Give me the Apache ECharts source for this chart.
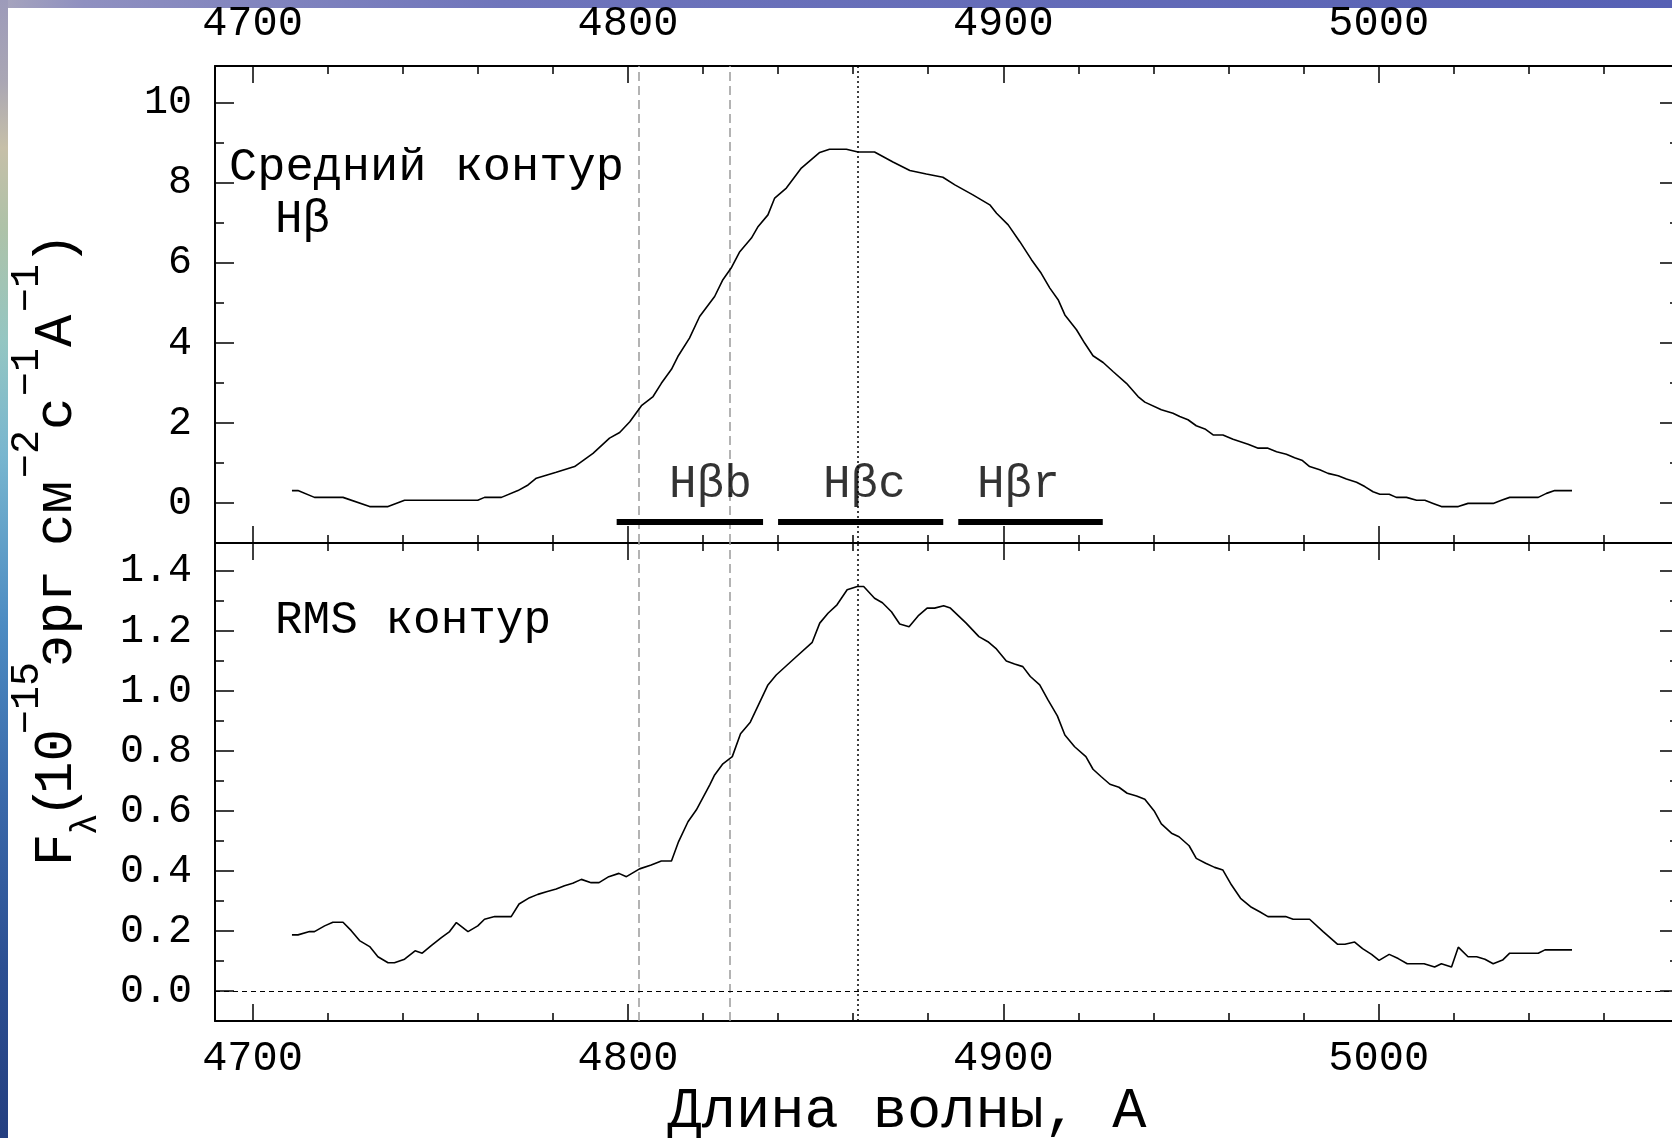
<!DOCTYPE html>
<html>
<head>
<meta charset="utf-8">
<script src="https://cdn.jsdelivr.net/npm/echarts@6/dist/echarts.min.js"></script>
<style>
  html, body { margin: 0; padding: 0; background: #fff; }
  #chart { width: 1672px; height: 1138px; }
</style>
</head>
<body>
<div id="chart"></div>
<script>
// ---- Mean Hβ profile: wavelength (Å) and flux (1e-15 erg cm^-2 s^-1 Å^-1) ----
const meanWave = [4710.5, 4712.1, 4716.5, 4724.1, 4731.2, 4736.1, 4740.5, 4760.0, 4761.8, 4766.3,
  4770.7, 4773.4, 4775.6, 4780.9, 4785.8, 4790.7, 4795.1, 4797.8, 4800.5, 4803.6,
  4806.7, 4808.9, 4811.6, 4813.3, 4816.4, 4819.1, 4823.1, 4825.3, 4827.5, 4829.8,
  4832.9, 4834.7, 4837.3, 4839.1, 4842.2, 4846.2, 4851.1, 4853.7, 4858.2, 4861.3,
  4865.7, 4870.6, 4875.1, 4879.5, 4883.9, 4887.1, 4891.9, 4896.4, 4898.2, 4901.3,
  4904.4, 4907.5, 4910.1, 4912.4, 4914.6, 4916.4, 4919.5, 4921.7, 4923.9, 4926.6,
  4929.3, 4932.8, 4935.9, 4937.7, 4942.1, 4945.2, 4947.0, 4949.2, 4951.4, 4953.7,
  4955.9, 4958.5, 4961.2, 4965.2, 4967.9, 4970.5, 4972.8, 4975.4, 4977.6, 4979.7,
  4981.6, 4984.3, 4986.5, 4989.2, 4991.4, 4994.1, 4996.3, 4998.5, 5000.3, 5002.8,
  5004.7, 5007.4, 5010.1, 5012.3, 5014.5, 5016.7, 5021.2, 5023.8, 5030.5, 5032.7,
  5034.9, 5042.5, 5044.7, 5046.9, 5051.5];
const meanFlux = [0.31, 0.31, 0.14, 0.14, -0.09, -0.09, 0.07, 0.07, 0.14, 0.14,
  0.31, 0.45, 0.62, 0.77, 0.91, 1.24, 1.62, 1.76, 2.03, 2.43,
  2.66, 2.99, 3.34, 3.66, 4.12, 4.66, 5.16, 5.58, 5.87, 6.28,
  6.62, 6.91, 7.20, 7.62, 7.87, 8.37, 8.76, 8.84, 8.84, 8.77,
  8.77, 8.52, 8.31, 8.22, 8.14, 7.95, 7.70, 7.45, 7.24, 6.95,
  6.53, 6.08, 5.74, 5.37, 5.08, 4.70, 4.33, 3.99, 3.68, 3.51,
  3.28, 2.99, 2.66, 2.52, 2.33, 2.24, 2.16, 2.08, 1.93, 1.85,
  1.70, 1.70, 1.59, 1.47, 1.37, 1.37, 1.28, 1.22, 1.13, 1.06,
  0.91, 0.83, 0.74, 0.68, 0.60, 0.52, 0.41, 0.28, 0.22, 0.22,
  0.14, 0.14, 0.07, 0.07, -0.01, -0.09, -0.09, -0.01, -0.01, 0.07,
  0.14, 0.14, 0.24, 0.31, 0.31];

// ---- RMS Hβ profile ----
const rmsWave = [4710.5, 4712.1, 4715.2, 4716.5, 4719.2, 4721.4, 4724.1, 4726.3, 4728.5, 4731.2,
  4733.4, 4736.1, 4737.8, 4740.5, 4743.3, 4745.2, 4747.6, 4750.3, 4752.5, 4754.3,
  4757.4, 4760.0, 4761.8, 4764.5, 4768.9, 4771.0, 4773.8, 4776.0, 4778.3, 4780.9,
  4783.1, 4785.3, 4787.6, 4790.2, 4792.3, 4794.9, 4797.6, 4799.6, 4803.1, 4806.2,
  4808.9, 4811.6, 4813.5, 4816.0, 4818.2, 4821.8, 4823.1, 4825.3, 4827.8, 4830.0,
  4832.6, 4837.3, 4839.5, 4844.4, 4849.1, 4851.1, 4853.3, 4855.7, 4858.4, 4861.1,
  4862.8, 4865.7, 4867.8, 4870.2, 4872.4, 4874.9, 4877.3, 4879.7, 4881.7, 4884.1,
  4885.9, 4890.1, 4893.5, 4895.9, 4898.0, 4900.8, 4903.0, 4905.2, 4907.2, 4909.7,
  4911.9, 4914.4, 4916.4, 4919.0, 4922.0, 4923.9, 4926.1, 4928.4, 4930.8, 4933.0,
  4935.5, 4937.7, 4940.3, 4942.1, 4944.8, 4946.8, 4949.5, 4951.4, 4953.9, 4956.3,
  4958.5, 4960.8, 4963.2, 4966.1, 4968.3, 4970.5, 4975.2, 4977.2, 4981.6, 4985.2,
  4989.0, 4991.0, 4993.6, 4995.7, 4998.1, 5000.1, 5002.8, 5005.2, 5007.6, 5012.1,
  5014.9, 5016.7, 5019.4, 5021.2, 5023.8, 5026.1, 5028.3, 5030.5, 5033.0, 5034.9,
  5042.5, 5044.3, 5051.5];
const rmsFlux = [0.187, 0.187, 0.198, 0.198, 0.217, 0.229, 0.229, 0.201, 0.168, 0.148,
  0.114, 0.094, 0.094, 0.106, 0.134, 0.126, 0.151, 0.178, 0.198, 0.228,
  0.198, 0.217, 0.239, 0.248, 0.248, 0.290, 0.311, 0.322, 0.331, 0.340,
  0.351, 0.359, 0.372, 0.361, 0.361, 0.381, 0.392, 0.381, 0.407, 0.420,
  0.433, 0.433, 0.498, 0.564, 0.603, 0.687, 0.720, 0.757, 0.781, 0.857,
  0.896, 1.020, 1.053, 1.109, 1.162, 1.226, 1.259, 1.287, 1.337, 1.348,
  1.348, 1.309, 1.294, 1.264, 1.223, 1.214, 1.250, 1.276, 1.276, 1.284,
  1.276, 1.226, 1.181, 1.164, 1.142, 1.100, 1.090, 1.081, 1.048, 1.020,
  0.970, 0.917, 0.853, 0.814, 0.781, 0.739, 0.714, 0.689, 0.679, 0.659,
  0.650, 0.639, 0.598, 0.557, 0.526, 0.514, 0.484, 0.442, 0.426, 0.412,
  0.403, 0.353, 0.309, 0.279, 0.264, 0.248, 0.248, 0.239, 0.239, 0.198,
  0.156, 0.156, 0.163, 0.141, 0.122, 0.102, 0.122, 0.108, 0.091, 0.091,
  0.080, 0.091, 0.080, 0.146, 0.114, 0.114, 0.106, 0.091, 0.103, 0.126,
  0.126, 0.137, 0.137];

// ---- Integration windows: blue wing, core, red wing ----
const bandNames = ['Hβb', 'Hβc', 'Hβr'];
const bandStart = [4797, 4840, 4888];
const bandEnd = [4836, 4884, 4926.5];
const bandLabelAt = [4822, 4863, 4904];

// ---- Reference wavelengths ----
const windowEdges = [4803, 4827];
const lineCenter = 4861.3;

// ---- Tick values ----
const xMajorTicks = [4700, 4800, 4900, 5000];
const xMinorTicks = [4700, 4720, 4740, 4760, 4780, 4800, 4820, 4840, 4860, 4880,
  4900, 4920, 4940, 4960, 4980, 5000, 5020, 5040, 5060];
const meanMajorTicks = [0, 2, 4, 6, 8, 10];
const meanMinorTicks = [-1, 0, 1, 2, 3, 4, 5, 6, 7, 8, 9, 10];
const rmsMajorTicks = [0, 0.2, 0.4, 0.6, 0.8, 1.0, 1.2, 1.4];
const rmsMinorTicks = [0, 0.1, 0.2, 0.3, 0.4, 0.5, 0.6, 0.7, 0.8, 0.9, 1.0, 1.1, 1.2, 1.3, 1.4];

const FONT = '"Liberation Mono", "Courier New", monospace';
const X_MIN = 4690, X_MAX = 5080;
const BAR_LEVEL = -0.475;
const BAND_LABEL_LEVEL = 0.45;

function xAx(gridIndex, position, ticks, len, withLine, labels, margin) {
  return {
    type: 'value', gridIndex, position, min: X_MIN, max: X_MAX,
    splitLine: { show: false },
    axisLine: { show: withLine, onZero: false, lineStyle: { color: '#000', width: 2 } },
    axisTick: { show: true, inside: true, length: len, customValues: ticks,
      lineStyle: { color: '#000', width: 1.5 } },
    axisLabel: labels ? { show: true, customValues: labels, margin: margin, color: '#000',
      fontFamily: FONT, fontSize: 42, formatter: v => String(v) } : { show: false }
  };
}
function yAx(gridIndex, position, min, max, ticks, len, withLine, labels, fmt) {
  return {
    type: 'value', gridIndex, position, min, max,
    splitLine: { show: false },
    axisLine: { show: withLine, onZero: false, lineStyle: { color: '#000', width: 2 } },
    axisTick: { show: true, inside: true, length: len, customValues: ticks,
      lineStyle: { color: '#000', width: 1.5 } },
    axisLabel: labels ? { show: true, customValues: labels, margin: 23, color: '#000',
      fontFamily: FONT, fontSize: 40, formatter: fmt } : { show: false }
  };
}

const MEAN_MIN = -1, MEAN_MAX = 10.92;
const RMS_MIN = -0.1, RMS_MAX = 1.493;

const xAxes = [
  xAx(0, 'top', xMajorTicks, 17, true, xMajorTicks, 21),   // 0
  xAx(0, 'top', xMinorTicks, 8, false, null),               // 1
  xAx(0, 'bottom', xMajorTicks, 17, true, null),            // 2
  xAx(0, 'bottom', xMinorTicks, 8, false, null),            // 3
  xAx(1, 'top', xMajorTicks, 17, true, null),               // 4
  xAx(1, 'top', xMinorTicks, 8, false, null),               // 5
  xAx(1, 'bottom', xMajorTicks, 17, true, xMajorTicks, 17), // 6
  xAx(1, 'bottom', xMinorTicks, 8, false, null)             // 7
];
const yAxes = [
  yAx(0, 'left', MEAN_MIN, MEAN_MAX, meanMajorTicks, 19, true, meanMajorTicks, v => String(v)), // 0
  yAx(0, 'left', MEAN_MIN, MEAN_MAX, meanMinorTicks, 9, false, null),                             // 1
  yAx(0, 'right', MEAN_MIN, MEAN_MAX, meanMajorTicks, 19, true, null),                            // 2
  yAx(0, 'right', MEAN_MIN, MEAN_MAX, meanMinorTicks, 9, false, null),                            // 3
  yAx(1, 'left', RMS_MIN, RMS_MAX, rmsMajorTicks, 19, true, rmsMajorTicks, v => v.toFixed(1)),   // 4
  yAx(1, 'left', RMS_MIN, RMS_MAX, rmsMinorTicks, 9, false, null),                                // 5
  yAx(1, 'right', RMS_MIN, RMS_MAX, rmsMajorTicks, 19, true, null),                               // 6
  yAx(1, 'right', RMS_MIN, RMS_MAX, rmsMinorTicks, 9, false, null)                                // 7
];

function refLines(extra) {
  const lines = windowEdges.map(w => ({ xAxis: w,
    lineStyle: { color: '#9a9a9a', type: [9, 5], width: 1.5 } }));
  lines.push({ xAxis: lineCenter, lineStyle: { color: '#000', type: [2, 3], width: 1.5 } });
  return {
    silent: true, symbol: ['none', 'none'], label: { show: false }, animation: false,
    emphasis: { disabled: true },
    data: lines.concat(extra || [])
  };
}

const series = [
  {
    type: 'line', name: 'mean', xAxisIndex: 0, yAxisIndex: 0,
    data: meanWave.map((w, i) => [w, meanFlux[i]]),
    symbol: 'none', showSymbol: false, lineStyle: { color: '#000', width: 1.6 }, z: 5,
    markLine: refLines()
  },
  {
    type: 'line', name: 'rms', xAxisIndex: 6, yAxisIndex: 4,
    data: rmsWave.map((w, i) => [w, rmsFlux[i]]),
    symbol: 'none', showSymbol: false, lineStyle: { color: '#000', width: 1.6 }, z: 5,
    markLine: refLines([{ yAxis: 0, lineStyle: { color: '#000', type: [5, 4], width: 1.2 } }])
  },
  {
    type: 'scatter', xAxisIndex: 0, yAxisIndex: 0, symbolSize: 0, silent: true, z: 6,
    data: bandNames.map((n, i) => ({ name: n, value: [bandLabelAt[i], BAND_LABEL_LEVEL] })),
    label: { show: true, position: 'inside', formatter: '{b}', color: '#000',
      fontFamily: FONT, fontSize: 46 }
  }
].concat(bandNames.map((n, i) => ({
  type: 'line', name: n, xAxisIndex: 0, yAxisIndex: 0, symbol: 'none', silent: true, z: 6,
  data: [[bandStart[i], BAR_LEVEL], [bandEnd[i], BAR_LEVEL]],
  lineStyle: { color: '#000', width: 6, cap: 'butt' }
})));

// Vertical axis title, laid out along a rotated baseline
const T_MAIN = '54px ' + FONT, T_SUP = '40px ' + FONT, T_SUB = '36px ' + FONT;
const titleParts = [
  ['F', T_MAIN, 4, 57], ['λ', T_SUB, 35, 86], ['(', T_MAIN, 52, 57], ['10', T_MAIN, 76, 57],
  ['−15', T_SUP, 136, 27], ['эрг', T_MAIN, 203, 57], ['см', T_MAIN, 324, 57],
  ['−2', T_SUP, 392, 27], ['с', T_MAIN, 440, 57], ['−1', T_SUP, 474, 27],
  ['A', T_MAIN, 523, 57], ['−1', T_SUP, 558, 27], [')', T_MAIN, 605, 57]
];

const graphic = [
  { type: 'rect', z: 0, silent: true, shape: { x: 0, y: 0, width: 1672, height: 8 },
    style: { fill: { type: 'linear', x: 0, y: 0, x2: 1, y2: 0, colorStops: [
      { offset: 0, color: '#a7a5bd' }, { offset: 0.05, color: '#8f90c0' },
      { offset: 0.3, color: '#6f75bb' }, { offset: 1, color: '#5660b4' }] } } },
  { type: 'rect', z: 0, silent: true, shape: { x: 0, y: 0, width: 8, height: 1138 },
    style: { fill: { type: 'linear', x: 0, y: 0, x2: 0, y2: 1, colorStops: [
      { offset: 0, color: '#9d9bba' }, { offset: 0.07, color: '#a9a6b4' },
      { offset: 0.13, color: '#c6bfa8' }, { offset: 0.2, color: '#aec2a8' },
      { offset: 0.3, color: '#94c6c2' }, { offset: 0.4, color: '#78b6cf' },
      { offset: 0.55, color: '#4c8bc2' }, { offset: 0.7, color: '#3a69aa' },
      { offset: 0.85, color: '#2c4f92' }, { offset: 1, color: '#243f80' }] } } },
  { type: 'text', z: 10, x: 229, y: 168,
    style: { text: 'Средний контур', font: '47px ' + FONT, fill: '#000',
      textAlign: 'left', textVerticalAlign: 'middle' } },
  { type: 'text', z: 10, x: 275, y: 220,
    style: { text: 'Hβ', font: '46px ' + FONT, fill: '#000',
      textAlign: 'left', textVerticalAlign: 'middle' } },
  { type: 'text', z: 10, x: 275, y: 621,
    style: { text: 'RMS контур', font: '46px ' + FONT, fill: '#000',
      textAlign: 'left', textVerticalAlign: 'middle' } },
  { type: 'text', z: 10, x: 907, y: 1112,
    style: { text: 'Длина волны, A', font: '57px ' + FONT, fill: '#000',
      textAlign: 'center', textVerticalAlign: 'middle' } },
  { type: 'group', x: 0, y: 870, rotation: Math.PI / 2, z: 10,
    children: titleParts.map(p => ({
      type: 'text', x: p[2], y: p[3], z: 10,
      style: { text: p[0], font: p[1], fill: '#000', textAlign: 'left', textVerticalAlign: 'middle' }
    })) }
];

const chart = echarts.init(document.getElementById('chart'), null, { renderer: 'canvas' });
chart.setOption({
  backgroundColor: '#fff',
  animation: false,
  grid: [
    { left: 215, top: 66, width: 1464, height: 477, containLabel: false, outerBoundsMode: 'none' },
    { left: 215, top: 543, width: 1464, height: 478, containLabel: false, outerBoundsMode: 'none' }
  ],
  xAxis: xAxes,
  yAxis: yAxes,
  series: series,
  graphic: graphic
});
</script>
</body>
</html>
